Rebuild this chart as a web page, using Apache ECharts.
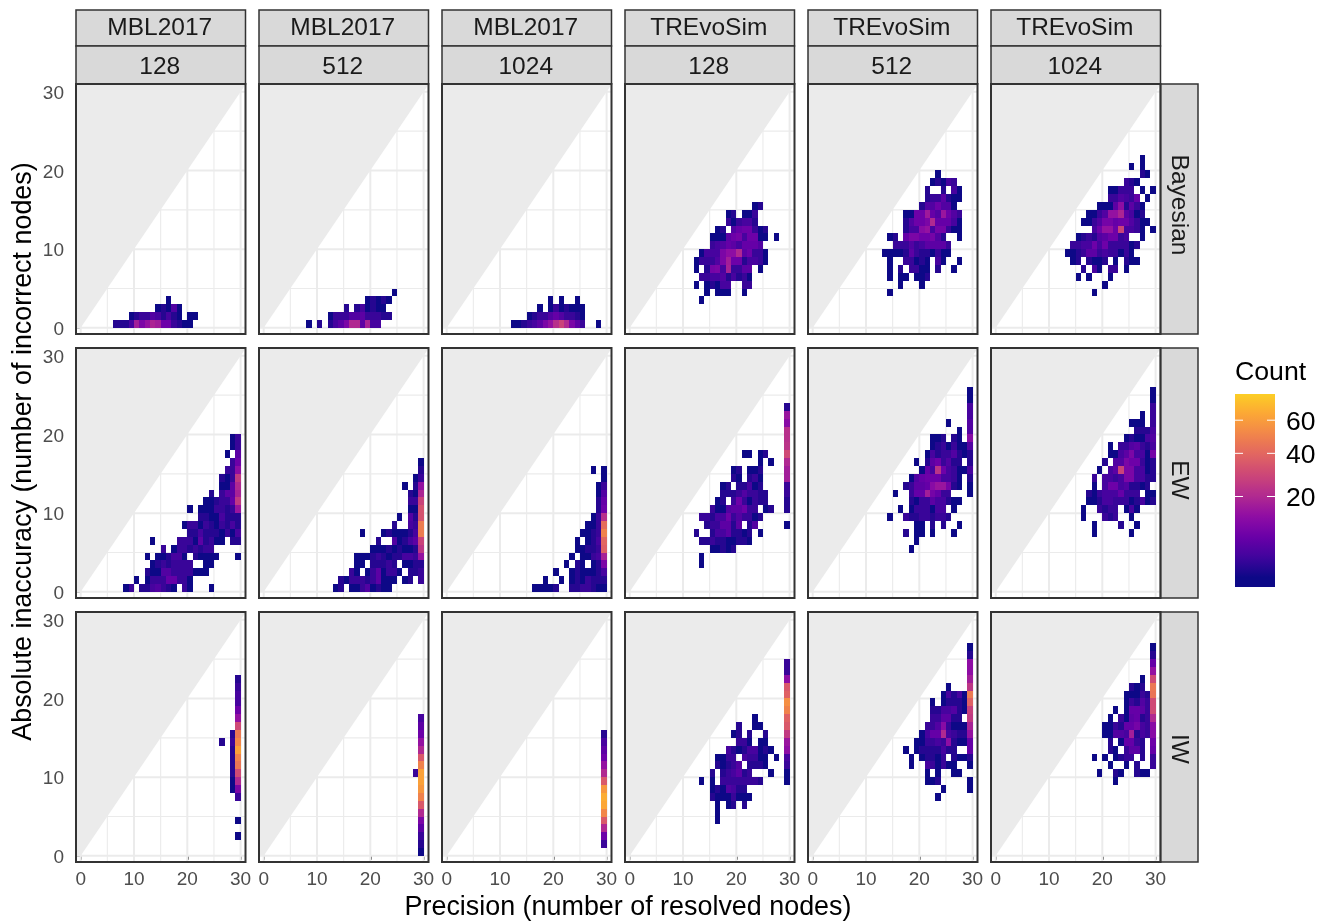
<!DOCTYPE html>
<html><head><meta charset="utf-8">
<script src="https://cdn.jsdelivr.net/npm/echarts@6/dist/echarts.min.js"></script>
<style>html,body{margin:0;padding:0;background:#fff}#c{width:1328px;height:922px}</style>
</head><body><div id="c"></div>
<script>
// Row format: [y bin of the row, first x bin, [counts along x; 0 = empty]]
const columnsTop = ['MBL2017','MBL2017','MBL2017','TREvoSim','TREvoSim','TREvoSim'];
const columnsSub = ['128','512','1024','128','512','1024'];
const rowNames = ['Bayesian','EW','IW'];
const majorTicks = [0,10,20,30];
const minorTicks = [5,15,25];
const legendTicks = [20,40,60];

const mbl128Bayes = [
 [0,6,[2,2,2,4,17,10,14,19,17,8,8,3,2,1,1]],
 [1,9,[1,2,3,3,5,4,2,4,2,1,0,1,1]],
 [2,14,[1,2,1,5,1]],
 [3,16,[1]]];
const mbl512Bayes = [
 [0,8,[1,0,2,0,2,4,6,10,20,20,6,18,4,4]],
 [1,12,[1,3,3,3,5,5,6,3,3,3,2,2]],
 [2,15,[2,0,2,4,1,2,1,1]],
 [3,19,[1,2,1,2,1]],
 [4,24,[1]]];
const mbl1024Bayes = [
 [0,12,[1,1,2,3,4,6,10,14,22,28,20,10,6,3,0,0,1]],
 [1,15,[1,2,3,3,5,7,5,3,3,2,1]],
 [2,17,[1,0,1,3,1,2,1,1,1]],
 [3,19,[1,0,1,0,0,1]]];
const tre128Bayes = [
 [3,13,[1]],
 [4,14,[1,0,1,1,1,0,0,1]],
 [5,12,[1,0,1,2,1,4,4,0,0,3,3]],
 [6,13,[3,3,4,4,5,2,4,2,3,1]],
 [7,12,[1,0,2,9,10,4,18,3,3,6,6,0,1]],
 [8,12,[1,3,3,3,5,10,17,8,8,2,4,4,3,1]],
 [9,13,[1,4,4,4,10,13,13,20,6,8,3,3,1]],
 [10,15,[3,4,5,7,6,4,7,7,7,5]],
 [11,15,[1,1,1,6,8,9,4,8,8,1,1,0,1]],
 [12,16,[1,2,0,5,7,8,8,3,1,2]],
 [13,18,[3,1,3,4,4,2]],
 [14,18,[1,2,0,1,1,3]],
 [15,23,[1,2]]];
const tre512Bayes = [
 [4,14,[1]],
 [5,16,[1,0,0,0,1]],
 [6,14,[1,0,1,1,0,1,1,2]],
 [7,14,[1,0,2,0,3,3,1,1,0,2,0,0,1]],
 [8,14,[1,0,0,3,3,1,2,1,0,4,1,0,0,1]],
 [9,13,[1,1,1,1,2,6,3,2,2,1,3,1,1]],
 [10,15,[3,3,3,5,3,4,6,6,6,6,3]],
 [11,14,[1,2,0,7,10,10,8,8,9,5,2,0,0,1]],
 [12,17,[2,4,4,12,14,4,9,9,3,1,1]],
 [13,17,[2,5,8,8,10,20,7,7,7,4,1]],
 [14,17,[1,1,8,8,16,7,5,15,8,5,3]],
 [15,20,[2,5,5,8,5,5,1]],
 [16,21,[2,3,3,6,2,1,1]],
 [17,21,[2,0,0,2,0,4,1]],
 [18,22,[1,2,1,4,3]],
 [19,23,[1]]];
const tre1024Bayes = [
 [4,18,[1]],
 [5,20,[1]],
 [6,15,[1,0,1,0,0,0,1]],
 [7,16,[2,0,4,1,0,3,3,0,1]],
 [8,14,[1,2,0,2,1,1,2,0,1,0,2,1,1]],
 [9,13,[1,1,2,3,6,6,3,4,3,3,1,3,1]],
 [10,14,[3,3,4,4,8,4,8,3,3,3,3,1,2]],
 [11,15,[1,2,3,2,5,6,8,8,3,4,0,0,1]],
 [12,18,[4,8,14,14,8,28,4,4,3,1,0,1]],
 [13,16,[1,1,3,5,9,9,7,8,8,5,3,1,1]],
 [14,17,[1,1,3,5,14,14,19,6,4,1,2]],
 [15,19,[1,1,1,6,13,2,6,3,1]],
 [16,21,[3,3,5,4,3,7,0,1]],
 [17,21,[1,1,3,3,3,0,1,0,1]],
 [18,24,[3,2,1]],
 [19,27,[2,1]],
 [20,25,[1,0,1]],
 [21,27,[1]]];
const mbl128EW = [
 [0,8,[1,3,0,2,2,4,5,3,2,1,0,3,1,0,0,0,1]],
 [1,10,[1,0,1,3,3,3,7,7,3,3,1]],
 [2,12,[2,1,1,5,5,3,3,3,3,1,1,1]],
 [3,13,[1,2,3,2,3,3,3,3,0,0,1,1]],
 [4,12,[1,0,1,1,2,4,4,1,0,2,1,1,1,1,0,0,0,1]],
 [5,15,[3,0,1,3,3,2,3,2,3,3]],
 [6,13,[1,0,0,0,0,3,3,3,1,6,2,3,1,1,0,2,2]],
 [7,20,[2,2,4,2,2,2,1,3,1,4]],
 [8,19,[1,3,3,1,3,2,1,3,2,4,2]],
 [9,22,[2,2,1,1,4,2,2,2]],
 [10,20,[1,0,1,1,1,3,3,2,3,15]],
 [11,23,[1,1,2,3,3,7,25]],
 [12,24,[2,0,3,6,6,18]],
 [13,26,[1,1,6,20]],
 [14,26,[2,1,3,25]],
 [15,27,[3,3,13]],
 [16,28,[3,8]],
 [17,27,[1,0,6]],
 [18,28,[1,3]],
 [19,28,[1,3]]];
const mbl512EW = [
 [0,13,[1,2,0,1,1,3,5,1,2,1,1]],
 [1,14,[2,1,3,3,3,2,3,6,1,1,1,0,1,2,0,3]],
 [2,16,[3,1,0,1,3,6,1,3,3,1,0,2,2,3]],
 [3,17,[1,1,0,2,2,2,3,2,0,1,1,2,2]],
 [4,17,[1,1,1,2,3,2,1,2,2,4,4,3,14]],
 [5,20,[1,1,1,2,1,2,1,1,2,24]],
 [6,21,[2,0,0,5,1,2,4,6,28]],
 [7,18,[1,0,0,0,1,2,1,1,1,2,4,48]],
 [8,24,[2,0,0,4,3,48]],
 [9,25,[1,0,5,2,33]],
 [10,27,[1,1,33]],
 [11,27,[3,3,28]],
 [12,27,[2,1,19]],
 [13,26,[1,0,2,14]],
 [14,28,[1,3]],
 [15,29,[2]],
 [16,29,[1]]];
const mbl1024EW = [
 [0,16,[1,1,1,1,2,0,0,2,2,3,3,2,1,1]],
 [1,18,[1,0,0,1,0,1,2,1,3,2,2,2]],
 [2,20,[1,0,0,1,2,1,1,1,2,4]],
 [3,22,[1,0,2,1,0,1,2,10]],
 [4,23,[1,0,1,1,3,4,18]],
 [5,24,[1,1,2,2,3,38]],
 [6,24,[1,0,1,2,4,40]],
 [7,25,[1,1,2,3,50]],
 [8,26,[1,1,3,42]],
 [9,27,[1,3,22]],
 [10,28,[2,8]],
 [11,28,[2,7]],
 [12,28,[1,5]],
 [13,28,[1,3]],
 [14,29,[1]],
 [15,27,[1,0,1]]];
const tre128EW = [
 [3,13,[1]],
 [4,13,[1]],
 [5,15,[1,1,2,1,2]],
 [6,13,[2,2,3,2,2,1,1,2,2,1]],
 [7,12,[2,0,0,2,4,4,6,2,2,1,2,0,1]],
 [8,14,[2,3,3,6,6,2,6,0,2,5,0,0,0,0,0,1]],
 [9,13,[3,3,2,4,4,8,3,5,3,3,1,2]],
 [10,15,[3,1,1,5,6,6,8,3,3,0,1,2,0,0,2]],
 [11,16,[1,2,0,3,8,3,1,3,2,2,0,0,0,2]],
 [12,17,[2,2,2,3,5,3,3,2,2,0,0,0,3]],
 [13,17,[1,2,0,2,2,4,1,2,0,0,0,0,3]],
 [14,19,[2,1,0,2,3,1,0,0,0,0,17]],
 [15,19,[1,2,0,1,1,2,0,0,0,0,17]],
 [16,24,[1,0,1,0,0,20]],
 [17,21,[1,1,0,1,2,0,0,0,30]],
 [18,29,[23]],[19,29,[22]],[20,29,[22]],[21,29,[12]],[22,29,[15]],[23,29,[2]]];
const tre512EW = [
 [5,18,[1]],
 [6,19,[1]],
 [7,17,[2,0,1,1,0,1,0,0,0,1]],
 [8,19,[1,1,0,2,0,2,0,0,1]],
 [9,14,[1,0,0,3,2,2,3,3,2,3,3,2]],
 [10,16,[1,0,1,3,3,3,1,4,4,0,1]],
 [11,18,[2,1,3,3,6,4,4,2,1,1]],
 [12,15,[1,0,0,3,7,7,17,9,7,3,3,0,0,0,1]],
 [13,17,[2,3,6,6,7,12,15,15,9,2,1,0,1]],
 [14,18,[1,5,7,8,8,8,4,4,3,1,0,2]],
 [15,20,[1,7,4,23,8,4,3,1,1,4]],
 [16,19,[1,0,2,6,8,3,5,2,2,0,2]],
 [17,21,[1,4,2,3,3,5,2,1,2]],
 [18,22,[1,2,3,1,3,1,1,5]],
 [19,22,[1,1,2,0,2,1,0,12]],
 [20,27,[1,0,5]],
 [21,25,[1,0,0,0,5]],
 [22,29,[4]],[23,29,[4]],[24,29,[1]],[25,29,[1]]];
const tre1024EW = [
 [7,18,[1,0,0,0,0,0,0,1]],
 [8,18,[1,0,0,0,0,2,0,0,1]],
 [9,16,[1,0,0,0,3,2,3,0,0,1]],
 [10,16,[1,0,0,3,2,3,3,0,1,4,1]],
 [11,17,[1,1,2,4,4,3,3,3,1,2,4,1,2]],
 [12,17,[2,1,3,4,4,4,7,3,3,3,0,1,1]],
 [13,18,[1,0,4,8,8,4,5,2,2,1,2]],
 [14,18,[3,0,4,4,3,4,10,10,4,4,2,2]],
 [15,19,[1,0,4,6,28,10,10,4,4,1,2]],
 [16,20,[2,0,5,5,10,8,8,3,1,2]],
 [17,21,[1,1,4,6,10,4,4,1,9]],
 [18,21,[1,0,3,3,5,6,3,2,4]],
 [19,24,[1,2,1,1,4,5]],
 [20,26,[2,2,2,4]],
 [21,25,[1,1,1,0,3]],
 [22,27,[1,0,3]],
 [23,29,[3]],[24,29,[1]],[25,29,[1]]];
const mbl128IW = [
 [2,29,[1]],[4,29,[1]],[7,29,[3]],
 [8,28,[1,10]],[9,28,[1,20]],[10,28,[2,30]],[11,28,[2,45]],[12,28,[2,50]],
 [13,28,[2,62]],[14,26,[2,0,3,52]],[15,28,[2,46]],[16,29,[30]],[17,29,[14]],
 [18,29,[8]],[19,29,[4]],[20,29,[4]],[21,29,[3]],[22,29,[2]]];
const mbl512IW = [
 [0,29,[1]],[1,29,[2]],[2,29,[3]],[3,29,[6]],[4,29,[10]],[5,29,[20]],[6,29,[35]],
 [7,29,[50]],[8,29,[58]],[9,29,[62]],[10,28,[3,62]],[11,29,[50]],[12,29,[35]],
 [13,29,[20]],[14,29,[14]],[15,29,[8]],[16,29,[6]],[17,29,[4]]];
const mbl1024IW = [
 [1,29,[3]],[2,29,[8]],[3,29,[20]],[4,29,[35]],[5,29,[52]],[6,29,[64]],[7,29,[66]],
 [8,29,[58]],[9,29,[35]],[10,29,[20]],[11,29,[14]],[12,29,[8]],[13,29,[6]],[14,29,[4]],[15,29,[2]]];
const tre128IW = [
 [4,16,[1]],[5,16,[1]],
 [6,16,[1,0,1,2,0,2]],
 [7,15,[2,1,1,1,3,1,1,1]],
 [8,15,[1,2,1,5,4,2,2]],
 [9,13,[1,0,1,0,3,3,3,3,3,3,3,2,0,0,0,0,1]],
 [10,15,[2,0,2,3,4,6,2,3,0,0,0,1,0,0,1]],
 [11,16,[2,1,2,3,5,0,2,2,2,1,0,0,0,3]],
 [12,16,[1,1,3,3,0,4,3,3,1,1,0,1,0,4]],
 [13,18,[4,2,1,2,4,4,1,2,1,0,0,13]],
 [14,20,[3,3,1,0,1,1,0,0,0,15]],
 [15,19,[1,2,0,2,0,0,2,0,0,0,25]],
 [16,20,[2,0,0,1,1,0,0,0,0,35]],
 [17,23,[1,0,0,0,0,0,38]],
 [18,29,[50]],[19,29,[55]],[20,29,[38]],[21,29,[35]],[22,29,[13]],[23,29,[3]],[24,29,[3]]];
const tre512IW = [
 [7,23,[1]],
 [8,24,[1,0,0,0,0,1]],
 [9,21,[1,1,2,0,0,0,0,0,1]],
 [10,21,[1,0,1,0,0,1,1]],
 [11,18,[1,0,0,4,3,1,3,1,1,0,0,1]],
 [12,18,[1,0,1,2,2,1,3,0,2,1,1,2]],
 [13,17,[1,0,1,2,2,2,2,4,2,2,0,0,7]],
 [14,19,[1,1,3,3,4,3,13,2,1,1,7]],
 [15,20,[1,4,7,7,20,4,3,2,2,14]],
 [16,21,[3,3,5,12,3,1,1,1,18]],
 [17,22,[3,3,6,6,2,2,0,25]],
 [18,22,[2,2,4,4,5,2,1,27]],
 [19,22,[1,0,1,2,2,2,1,38]],
 [20,24,[1,4,2,4,1,47]],
 [21,25,[1,0,0,0,24]],
 [22,29,[17]],[23,29,[13]],[24,29,[13]],[25,29,[2]],[26,29,[1]]];
const tre1024IW = [
 [9,22,[1]],
 [10,19,[1,0,0,2,1,0,0,2,1,1]],
 [11,21,[1,0,0,1,0,2,0,0,3]],
 [12,18,[1,0,1,0,1,2,3,3,0,2,0,3]],
 [13,21,[2,1,0,3,6,6,2,0,7]],
 [14,21,[2,0,1,7,7,3,2,0,8]],
 [15,20,[1,1,5,5,4,17,2,4,3,12]],
 [16,20,[1,1,3,2,7,7,9,4,3,12]],
 [17,21,[1,0,3,1,6,7,2,3,20]],
 [18,22,[1,0,1,7,7,6,3,30]],
 [19,24,[1,3,2,5,3,30]],
 [20,24,[1,1,1,3,2,45]],
 [21,25,[2,1,2,0,46]],
 [22,27,[1,0,30]],
 [23,29,[14]],[24,29,[7]],[25,29,[2]],[26,29,[1]]];

const panels = [
 [mbl128Bayes,mbl512Bayes,mbl1024Bayes,tre128Bayes,tre512Bayes,tre1024Bayes],
 [mbl128EW,mbl512EW,mbl1024EW,tre128EW,tre512EW,tre1024EW],
 [mbl128IW,mbl512IW,mbl1024IW,tre128IW,tre512IW,tre1024IW]];

// ---------- layout & style ----------
const FONT = '"Liberation Sans", Arial, sans-serif';
const lefts = [76,259,442,625,808,991], tops = [84,348,612];
const rowLabelY = [205,480,749];
const PW = 169.5, PH = 250;
const XR = [-0.88,30.92], YR = [-0.78,30.99];
const plasma = ['#0D0887','#41049D','#6A00A8','#8F0DA4','#B12A90','#CC4678','#E16462','#F1844B','#FCA636','#FCCE25'];
const legendRange = [0.59,8.87];
const sTop = legendRange[1];
function colorOf(c){
  const t = Math.max(0,Math.min(1,(Math.sqrt(c)-1)/(sTop-1)));
  return echarts.color.lerp(t,plasma);
}
const grids=[], xAxes=[], yAxes=[], series=[], graphic=[];

function expand(rows){
  const out=[];
  rows.forEach(([j,i0,vals])=>vals.forEach((v,k)=>{ if(v>0) out.push([i0+k,j,v]); }));
  return out;
}
panels.forEach((rowPanels,r)=>rowPanels.forEach((rows,c)=>{
  const idx = grids.length, L=lefts[c], T=tops[r];
  grids.push({left:L,top:T,width:PW,height:PH});
  const bottom = r===2, left = c===0;
  xAxes.push({gridIndex:idx,type:'value',min:XR[0],max:XR[1],show:bottom,
    axisLine:{show:false},splitLine:{show:false},
    axisTick:{show:bottom,length:4,lineStyle:{color:'#333',width:1.5},customValues:majorTicks},
    axisLabel:{show:bottom,color:'#4D4D4D',fontSize:19,fontFamily:FONT,margin:8,customValues:majorTicks,hideOverlap:false}});
  yAxes.push({gridIndex:idx,type:'value',min:YR[0],max:YR[1],show:left,
    axisLine:{show:false},splitLine:{show:false},
    axisTick:{show:left,length:4,lineStyle:{color:'#333',width:1.5},customValues:majorTicks},
    axisLabel:{show:left,color:'#4D4D4D',fontSize:19,fontFamily:FONT,margin:12,verticalAlign:'top',lineHeight:4,customValues:majorTicks,hideOverlap:false}});
  // grid lines
  const rules=[];
  majorTicks.forEach(v=>{rules.push([v,0,2]);rules.push([v,1,2]);});
  minorTicks.forEach(v=>{rules.push([v,0,1.1]);rules.push([v,1,1.1]);});
  series.push({type:'custom',xAxisIndex:idx,yAxisIndex:idx,silent:true,z:1,data:rules,
    renderItem(p,api){
      const v=api.value(0),d=api.value(1),w=api.value(2);
      const a=d===0?api.coord([v,YR[0]]):api.coord([XR[0],v]);
      const b=d===0?api.coord([v,YR[1]]):api.coord([XR[1],v]);
      return {type:'line',shape:{x1:a[0],y1:a[1],x2:b[0],y2:b[1]},style:{stroke:'#EBEBEB',lineWidth:w}};
    }});
  // impossible region (more incorrect nodes than resolved nodes)
  const wedge=[[XR[0],0],[0,0],[YR[1],YR[1]],[XR[0],YR[1]]];
  series.push({type:'custom',xAxisIndex:idx,yAxisIndex:idx,silent:true,z:2,data:wedge,
    renderItem(p,api){
      if(p.dataIndex!==0) return null;
      return {type:'polygon',shape:{points:wedge.map(q=>api.coord(q))},style:{fill:'#EBEBEB'}};
    }});
  // count cells
  series.push({type:'custom',xAxisIndex:idx,yAxisIndex:idx,silent:true,z:3,data:expand(rows),
    encode:{x:0,y:1},
    renderItem(p,api){
      const a=api.coord([api.value(0),api.value(1)+1]),b=api.coord([api.value(0)+1,api.value(1)]);
      const x0=Math.round(a[0]),x1=Math.round(b[0]),y0=Math.round(a[1]),y1=Math.round(b[1]);
      return {type:'rect',shape:{x:x0,y:y0,width:x1-x0,height:y1-y0},
        style:{fill:colorOf(api.value(2))}};
    }});
  graphic.push({type:'rect',z:50,shape:{x:L,y:T,width:PW,height:PH},
    style:{fill:'none',stroke:'#333',lineWidth:2}});
}));

// column strips
const stripStyle={fill:'#D9D9D9',stroke:'#333',lineWidth:1.5};
columnsTop.forEach((t,c)=>{
  const L=lefts[c];
  graphic.push({type:'rect',z:40,shape:{x:L,y:10,width:PW,height:36},style:stripStyle});
  graphic.push({type:'rect',z:40,shape:{x:L,y:46,width:PW,height:38},style:stripStyle});
  graphic.push({type:'text',z:41,x:L+PW/2-1,y:28,style:{text:t,fill:'#1A1A1A',font:'24.5px '+FONT,align:'center',verticalAlign:'middle'}});
  graphic.push({type:'text',z:41,x:L+PW/2-1,y:67.5,style:{text:columnsSub[c],fill:'#1A1A1A',font:'24.5px '+FONT,align:'center',verticalAlign:'middle'}});
});
// row strips
rowNames.forEach((t,r)=>{
  const T=tops[r];
  graphic.push({type:'rect',z:40,shape:{x:1160.5,y:T,width:37.5,height:PH},style:stripStyle});
  graphic.push({type:'text',z:41,x:1179,y:rowLabelY[r],rotation:-Math.PI/2,style:{text:t,fill:'#1A1A1A',font:'24.5px '+FONT,align:'center',verticalAlign:'middle'}});
});
// axis titles
graphic.push({type:'text',x:628,y:908,style:{text:'Precision (number of resolved nodes)',fill:'#000',font:'26.9px '+FONT,align:'center',verticalAlign:'middle'}});
graphic.push({type:'text',x:24,y:451.5,rotation:Math.PI/2,style:{text:'Absolute inaccuracy (number of incorrect nodes)',fill:'#000',font:'26.9px '+FONT,align:'center',verticalAlign:'middle'}});
graphic.push({type:'text',x:1235,y:373,style:{text:'Count',fill:'#000',font:'26.7px '+FONT,align:'left',verticalAlign:'middle'}});

// colour bar
const ci=grids.length;
grids.push({left:1235,top:394,width:40,height:193});
xAxes.push({gridIndex:ci,type:'value',min:0,max:1,show:false});
yAxes.push({gridIndex:ci,type:'value',position:'right',min:legendRange[0],max:legendRange[1],
  axisLine:{show:false},splitLine:{show:false},axisTick:{show:false},
  axisLabel:{color:'#000',fontSize:26.5,fontFamily:FONT,margin:11,verticalAlign:'top',lineHeight:4,hideOverlap:false,
    customValues:legendTicks.map(Math.sqrt),formatter:v=>String(Math.round(v*v))}});
const stops=[];
for(let k=0;k<=40;k++){
  const s=legendRange[1]-(legendRange[1]-legendRange[0])*k/40;
  stops.push({offset:k/40,color:colorOf(s*s)});
}
series.push({type:'custom',xAxisIndex:ci,yAxisIndex:ci,silent:true,z:3,data:[legendRange],
  renderItem(p,api){
    const a=api.coord([0,api.value(1)]),b=api.coord([1,api.value(0)]);
    return {type:'rect',shape:{x:a[0],y:a[1],width:b[0]-a[0],height:b[1]-a[1]},
      style:{fill:{type:'linear',x:0,y:0,x2:0,y2:1,colorStops:stops}}};
  }});
series.push({type:'custom',xAxisIndex:ci,yAxisIndex:ci,silent:true,z:4,
  data:legendTicks.flatMap(v=>[[0,Math.sqrt(v)],[0.8,Math.sqrt(v)]]),
  renderItem(p,api){
    const a=api.coord([api.value(0),api.value(1)]),b=api.coord([api.value(0)+0.2,api.value(1)]);
    return {type:'line',shape:{x1:a[0],y1:a[1],x2:b[0],y2:b[1]},style:{stroke:'#fff',lineWidth:1}};
  }});

const chart=echarts.init(document.getElementById('c'),null,{renderer:'canvas'});
chart.setOption({animation:false,backgroundColor:'#fff',grid:grids,xAxis:xAxes,yAxis:yAxes,series,graphic});
</script></body></html>
